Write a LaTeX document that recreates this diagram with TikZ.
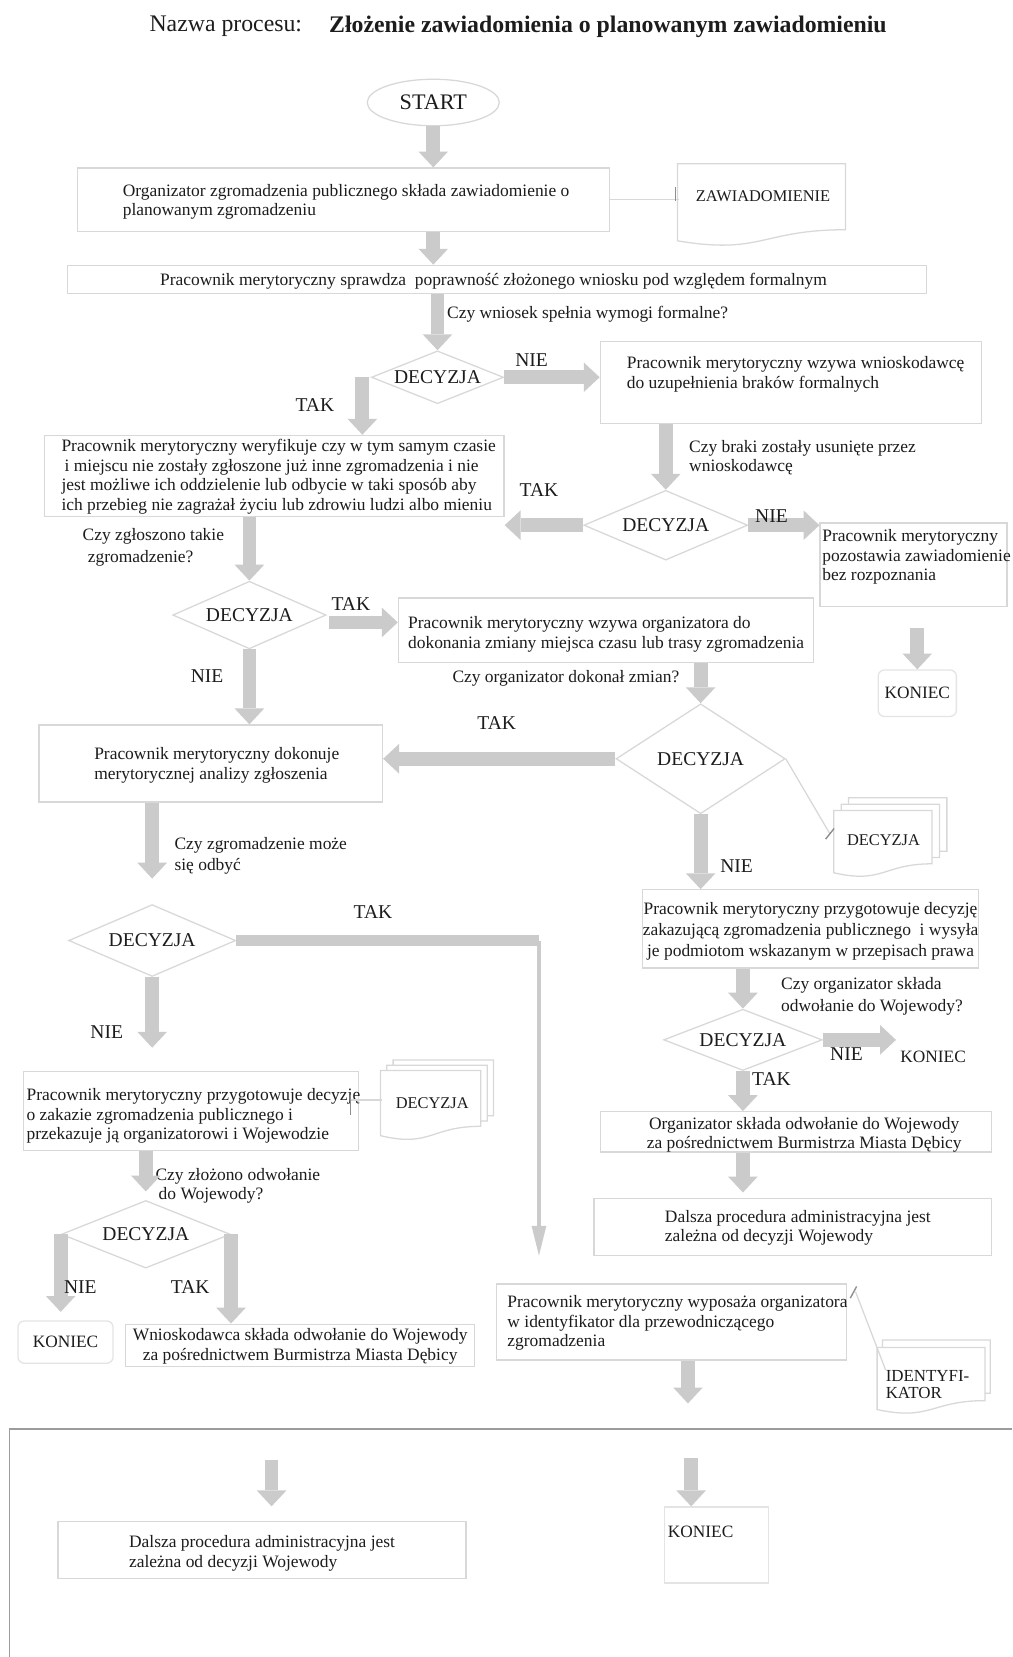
\documentclass[tikz,border=0pt]{standalone}
\usepackage{fontspec}
\setmainfont{Liberation Serif}
\usetikzlibrary{arrows.meta,shapes.geometric,calc}
\definecolor{shpc}{HTML}{D8D8D8}
\definecolor{termc}{HTML}{E4E4E4}
\definecolor{arrc}{HTML}{CBCBCB}
\definecolor{inkc}{HTML}{1C1C1C}
\definecolor{tickc}{HTML}{8E8E8E}
\definecolor{pagec}{HTML}{9C9C9C}
% document symbol: left, top, right, height
\newcommand\docshape[5][]{%
  \draw[shp,fill=white,#1] (#2,#3) -- (#4,#3) -- (#4,{#3+0.80*#5})
    .. controls ({(#2+#4)/2},{#3+0.80*#5}) and ({(#2+#4)/2},{#3+1.107*#5}) ..
    (#2,{#3+0.934*#5}) -- cycle;}
\begin{document}
\begin{tikzpicture}[x=1pt,y=-1pt,
  shp/.style={draw=shpc, line width=1.2pt},
  box/.style={shp, rectangle, inner sep=0pt},
  term/.style={draw=termc, line width=1.2pt, rectangle, rounded corners=6pt, inner sep=0pt,
    text=inkc, font=\fontsize{16.4}{18}\selectfont},
  txt/.style={text=inkc, font=\fontsize{16.5}{18.5}\selectfont, align=left, inner sep=0pt},
  ctxt/.style={txt, align=center},
  lbl/.style={text=inkc, font=\fontsize{18.5}{20}\selectfont, inner sep=0pt},
  dec/.style={shp, diamond, aspect=2.5, inner sep=0pt, text=inkc,
    font=\fontsize{18.5}{20}\selectfont},
  doctext/.style={inner sep=0pt, text=inkc, font=\fontsize{15.5}{17}\selectfont},
  blk/.style={draw=arrc, line width=13pt,
    -{Triangle[width=28pt,length=15pt,line width=0pt]}},
  thinarr/.style={draw=arrc, line width=3pt,
    -{Triangle[width=14pt,length=28pt,line width=0pt]}},
  assoc/.style={draw=shpc, line width=1.2pt},
  tick/.style={draw=tickc, line width=1.3pt},
]
\fill[white] (0,0) rectangle (958,1568);
\useasboundingbox (0,0) rectangle (958,1568);

% ---- title ----
\node[anchor=west, text=inkc, font=\fontsize{22.5}{24}\selectfont] (ttl1) at (138,25) {Nazwa procesu:};
\node[anchor=west, text=inkc, font=\fontsize{22.5}{24}\selectfont\bfseries] (ttl2) at (308,25)
  {Złożenie zawiadomienia o planowanym zawiadomieniu};

% ---- upper part ----
\node[draw=shpc, line width=1.2pt, ellipse, minimum width=125, minimum height=44, inner sep=0pt,
  text=inkc, font=\fontsize{21}{22}\selectfont] (start) at (410,97) {START};

\node[box, minimum width=504, minimum height=60] (b1) at (325,189) {};
\node[txt, anchor=west] (t1) at (116,191)
  {Organizator zgromadzenia publicznego składa zawiadomienie o\\planowanym zgromadzeniu};

\docshape{641}{155}{800}{78}
\node[doctext, minimum width=159, minimum height=50] (zaw) at (722,186) {ZAWIADOMIENIE};
\draw[assoc] (b1.east) -- (b1.east -| zaw.west);
\draw[tick] ($(zaw.west)+(-3,-9)$) -- ($(zaw.west)+(-3,4)$);

\node[box, minimum width=813, minimum height=27] (b2) at (470.5,264.5) {};
\node[ctxt] (t2) at (467,266)
  {Pracownik merytoryczny sprawdza\ \ poprawność złożonego wniosku pod względem formalnym};

\node[dec, minimum width=125, minimum height=50] (d1) at (414,357) {DECYZJA};
\node[txt, anchor=west] (q1) at (423,297) {Czy wniosek spełnia wymogi formalne?};

\node[box, minimum width=361, minimum height=78] (b3) at (748.5,362) {};
\node[txt, anchor=west] (t3) at (593,354)
  {Pracownik merytoryczny wzywa wnioskodawcę\\do uzupełnienia braków formalnych};

\node[box, minimum width=435, minimum height=77] (b4) at (259.5,450.5) {};
\node[txt, anchor=west] (t4) at (58,451)
  {Pracownik merytoryczny weryfikuje czy w tym samym czasie\\
   \hspace{3pt}i miejscu nie zostały zgłoszone już inne zgromadzenia i nie\\
   jest możliwe ich oddzielenie lub odbycie w taki sposób aby\\
   ich przebieg nie zagrażał życiu lub zdrowiu ludzi albo mieniu};

\node[dec, minimum width=155, minimum height=66] (d2) at (630,497) {DECYZJA};
\node[txt, anchor=west] (q2) at (652,433) {Czy braki zostały usunięte przez\\wnioskodawcę};

\node[box, minimum width=177, minimum height=79] (b5) at (864.5,534.5) {};
\node[txt, anchor=west] (t5) at (778,527)
  {Pracownik merytoryczny\\pozostawia zawiadomienie\\bez rozpoznania};

\node[term, minimum width=74, minimum height=44] (kon1) at (868,656) {KONIEC};

\node[txt, anchor=west] (q3) at (78,518) {Czy zgłoszono takie\\[2pt]\hspace{5pt}zgromadzenie?};
\node[dec, minimum width=145, minimum height=64] (d3) at (236,582) {DECYZJA};

\node[box, minimum width=393, minimum height=61] (b6) at (573.5,596.5) {};
\node[txt, anchor=west] (t6) at (386,600)
  {Pracownik merytoryczny wzywa organizatora do\\dokonania zmiany miejsca czasu lub trasy zgromadzenia};
\node[txt, anchor=west] (q4) at (428,642) {Czy organizator dokonał zmian?};

\node[dec, minimum width=160, minimum height=104] (d4) at (663,718) {DECYZJA};

\node[box, minimum width=325, minimum height=73] (b7) at (199.5,722.5) {};
\node[txt, anchor=west] (t7) at (89,724)
  {Pracownik merytoryczny dokonuje\\merytorycznej analizy zgłoszenia};

% decision document stack (right)
\docshape{803}{755}{896}{63}
\docshape{796}{761}{889}{63}
\docshape{789}{767}{882}{63}
\node[doctext, minimum width=93, minimum height=50] (decR) at (836,795) {DECYZJA};
\draw[assoc] (d4.east) -- ($(decR.west)+(-4,-6)$);
\draw[tick] ($(decR.west)+(-8,-1)$) -- ($(decR.west)+(0,-11)$);

\node[box, minimum width=318, minimum height=74] (b8) at (767,879) {};
\node[txt, anchor=center, align=center, font=\fontsize{16.5}{20}\selectfont] (t8) at (767,881)
  {Pracownik merytoryczny przygotowuje decyzję\\zakazującą zgromadzenia publicznego\ \ i wysyła\\je podmiotom wskazanym w przepisach prawa};

\node[txt, anchor=west] (q5) at (165,810) {Czy zgromadzenie może\\[2pt]się odbyć};
\node[dec, minimum width=158, minimum height=68] (d5) at (144,890) {DECYZJA};

\node[box, minimum width=317, minimum height=75] (b9) at (180.5,1051.5) {};
\node[txt, anchor=west] (t9) at (25,1056)
  {Pracownik merytoryczny przygotowuje decyzję\\o zakazie zgromadzenia publicznego i\\przekazuje ją organizatorowi i Wojewodzie};

% decision document stack (left)
\docshape{372}{1003}{467}{66}
\docshape{366}{1008}{461}{66}
\docshape{360}{1013}{455}{66}
\node[doctext, minimum width=95, minimum height=50] (decL) at (409,1044) {DECYZJA};
\draw[assoc] (b9.east |- decL.west) ++(-8,-3) -- ($(decL.west)+(0,-3)$);
\draw[tick] ($(b9.east)+(-8,-15)$) -- ($(b9.east)+(-8,4)$);

\node[txt, anchor=west] (q6) at (147,1122) {Czy złożono odwołanie\\\hspace{3pt}do Wojewody?};
\node[dec, minimum width=160, minimum height=64] (d7) at (138,1168) {DECYZJA};

\node[term, minimum width=90, minimum height=40] (konL) at (62,1270) {KONIEC};
\node[box, minimum width=330, minimum height=40] (b12) at (284,1273) {};
\node[ctxt] (t12) at (284,1274)
  {Wnioskodawca składa odwołanie do Wojewody\\za pośrednictwem Burmistrza Miasta Dębicy};

% right lower branch
\node[txt, anchor=west] (q7) at (739,943) {Czy organizator składa\\[2pt]odwołanie do Wojewody?};
\node[dec, minimum width=150, minimum height=58] (d6) at (703,984) {DECYZJA};
\node[inner sep=0pt, text=inkc, font=\fontsize{16.4}{18}\selectfont] (konR) at (883,1000) {KONIEC};

\node[box, minimum width=370, minimum height=38] (b10) at (753,1071) {};
\node[ctxt] (t10) at (761,1074)
  {Organizator składa odwołanie do Wojewody\\za pośrednictwem Burmistrza Miasta Dębicy};

\node[box, minimum width=376, minimum height=54] (b11) at (750,1161) {};
\node[txt, anchor=west] (t11) at (629,1162)
  {Dalsza procedura administracyjna jest\\zależna od decyzji Wojewody};

\node[box, minimum width=331, minimum height=72] (b13) at (635.5,1251) {};
\node[txt, anchor=west] (t13) at (480,1252)
  {Pracownik merytoryczny wyposaża organizatora\\w identyfikator dla przewodniczącego\\zgromadzenia};

% identifier document
\docshape{835}{1268}{937}{63}
\docshape{830}{1275}{932}{63}
\node[txt, anchor=west, font=\fontsize{16}{16.5}\selectfont] (idk) at (838,1310) {IDENTYFI-\\KATOR};
\draw[assoc] ($(b13.north east)+(8,8)$) -- (idk.north west);
\draw[tick] ($(b13.north east)+(3,14)$) -- ($(b13.north east)+(9,3)$);

% page break
\draw[draw=pagec, line width=1.5pt] (9,1568) -- (9,1352) -- (958,1352);

% ---- continuation below the break ----
\node[box, minimum width=386, minimum height=54] (b14) at (248,1467) {};
\node[txt, anchor=west] (t14) at (122,1470)
  {Dalsza procedura administracyjna jest\\zależna od decyzji Wojewody};
\node[draw=termc, line width=1.2pt, rectangle, inner sep=0pt,
  minimum width=98, minimum height=72] (kon4) at (678,1462) {};
\node[inner sep=0pt, text=inkc, font=\fontsize{16.4}{18}\selectfont] (kon4t) at (663,1450) {KONIEC};

\coordinate (c1s) at (257,1382);
\coordinate (c2s) at (654,1380);
\coordinate (p1e) at (651,1328);
\coordinate (tkc) at (510,890);
\coordinate (tke) at (510,1188);
\coordinate (d1tak) at ($(d1.west)+(-8,0)$);
\coordinate (d3tak) at ($(d3.east)+(2,7)$);

% ---- connectors ----
\draw[blk] (start.south) -- (start.south |- b1.north);
\draw[blk] (b1.south -| start) -- (b2.north -| start);
\draw[blk] (b2.south -| d1) -- (d1.north);
\draw[blk] (d1tak) -- (d1tak |- b4.north);
\draw[blk] (d1.east) -- (d1.east -| b3.west);
\draw[blk] (b3.south -| d2) -- (d2.north);
\draw[blk] (d2.west) -- (d2.west -| b4.east);
\draw[blk] (d2.east) -- (d2.east -| b5.west);
\draw[blk, shorten <=20pt] (b5.south -| kon1) -- (kon1.north);
\draw[blk] (b4.south -| d3) -- (d3.north);
\draw[blk] (d3tak) -- (d3tak -| b6.west);
\draw[blk] (d3.south) -- (d3.south |- b7.north);
\draw[blk] (b6.south -| d4) -- (d4.north);
\draw[blk] (d4.west) -- (d4.west -| b7.east);
\draw[blk] (d4.south) -- (d4.south |- b8.north);
\draw[blk, shorten >=24pt] (b7.south -| d5) -- (d5.north);
\draw[draw=arrc, line width=11pt] (d5.east) -- (tkc);
\draw[thinarr] (tkc) -- (tke);
\draw[blk, shorten >=22pt] (d5.south) -- (d5.south |- b9.north);
\draw[blk, shorten >=8pt] (b9.south -| d7) -- (d7.north);
\draw[blk, shorten >=8pt] (d7.west) -- (d7.west |- konL.north);
\draw[blk] (d7.east) -- (d7.east |- b12.north);
\draw[blk] (b8.south -| d6) -- (d6.north);
\draw[blk, shorten >=4pt] (d6.east) -- (d6.east -| konR.west);
\draw[blk] (d6.south) -- (d6.south |- b10.north);
\draw[blk, shorten >=5pt] (b10.south -| d6) -- (b11.north -| d6);
\draw[blk] (b13.south -| p1e) -- (p1e);
\draw[blk, shorten >=14pt] (c1s) -- (c1s |- b14.north);
\draw[blk] (c2s) -- (c2s |- kon4.north);

% ---- branch labels ----
\node[lbl] (l1) at (298,383) {TAK};
\node[lbl] (l2) at (503,341) {NIE};
\node[lbl] (l3) at (510,464) {TAK};
\node[lbl] (l4) at (730,488) {NIE};
\node[lbl] (l5) at (332,572) {TAK};
\node[lbl] (l6) at (196,640) {NIE};
\node[lbl] (l7) at (470,684) {TAK};
\node[lbl] (l8) at (697,820) {NIE};
\node[lbl] (l9) at (353,863) {TAK};
\node[lbl] (l10) at (101,977) {NIE};
\node[lbl] (l11) at (76,1218) {NIE};
\node[lbl] (l12) at (180,1218) {TAK};
\node[lbl] (l13) at (801,997) {NIE};
\node[lbl] (l14) at (730,1021) {TAK};
\end{tikzpicture}
\end{document}
